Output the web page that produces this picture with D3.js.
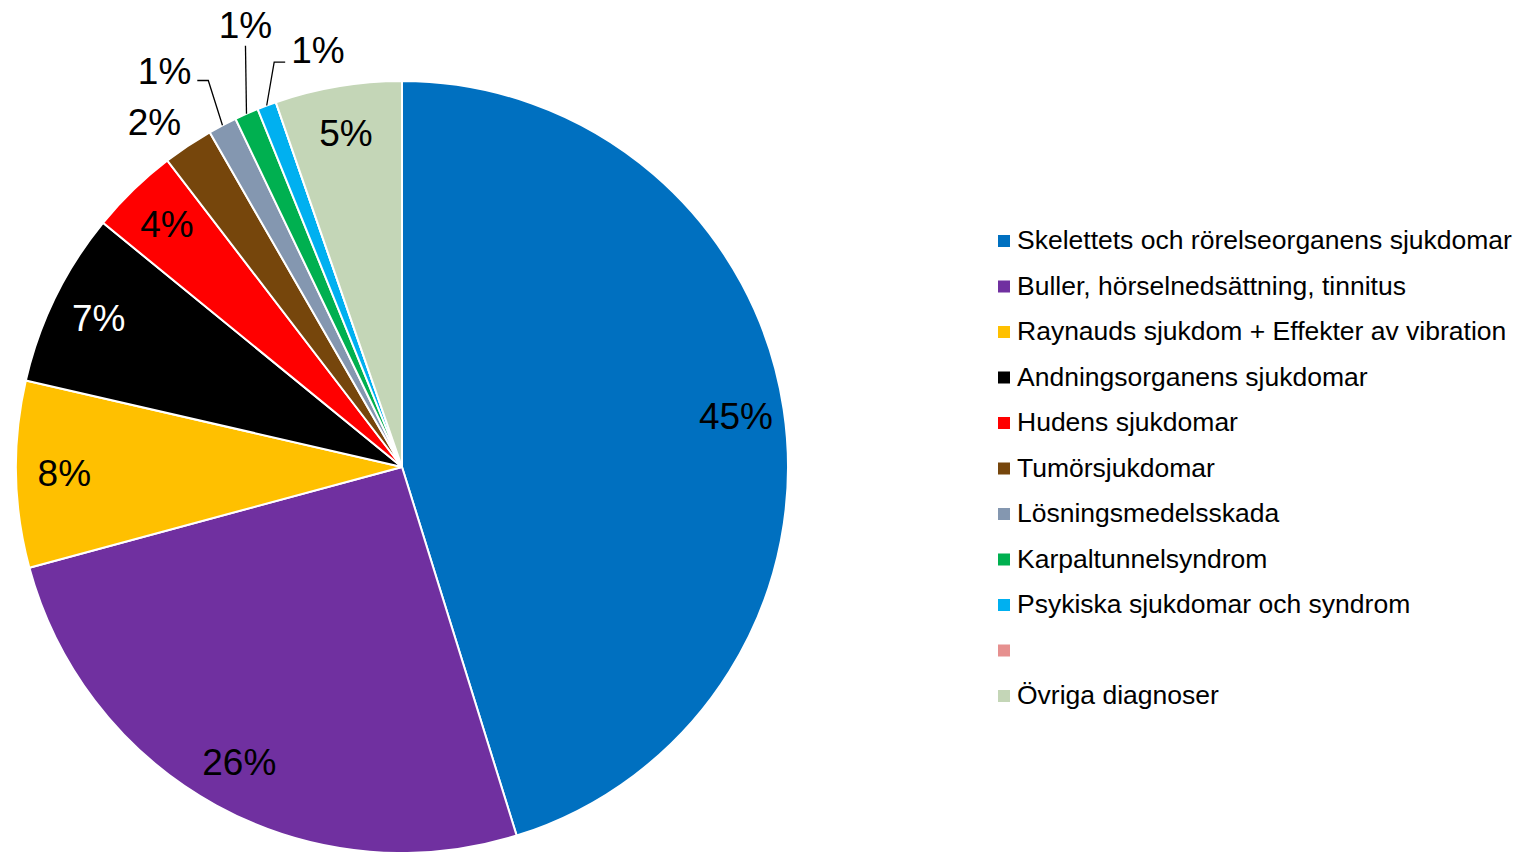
<!DOCTYPE html>
<html>
<head>
<meta charset="utf-8">
<script src="https://cdn.jsdelivr.net/npm/d3@7"></script>
<style>
  body { margin: 0; background: #fff; }
  svg { display: block; font-family: "Liberation Sans", Arial, sans-serif; }
</style>
</head>
<body>
<svg id="chart" width="1517" height="852"></svg>
<script>
'use strict'
// kategorier, andelar i procent och färger
var categories = [
    "Skelettets och rörelseorganens sjukdomar",
    "Buller, hörselnedsättning, tinnitus",
    "Raynauds sjukdom + Effekter av vibration",
    "Andningsorganens sjukdomar",
    "Hudens sjukdomar",
    "Tumörsjukdomar",
    "Lösningsmedelsskada",
    "Karpaltunnelsyndrom",
    "Psykiska sjukdomar och syndrom",
    "",
    "Övriga diagnoser"
];
var values = [45.2, 25.6, 7.8, 7.3, 3.7, 2.1, 1.2, 1.0, 0.8, 0, 5.3];
var colors = ["#0070C0", "#7030A0", "#FFC000", "#000000", "#FF0000", "#76460C",
              "#8497B0", "#00B050", "#00B0F0", "#E6908F", "#C4D6B7"];

var svg = d3.select("#chart");
var cx = 402, cy = 467, r = 386;
var labelSize = 37;

var pie = d3.pie().sort(null).value(function (d) { return d; });
var arcs = pie(values);
var arc = d3.arc().innerRadius(0).outerRadius(r);

var g = svg.append("g").attr("transform", "translate(" + cx + "," + cy + ")");

g.selectAll("path.slice")
    .data(arcs)
    .enter().append("path")
    .attr("class", "slice")
    .attr("d", arc)
    .attr("fill", function (d, i) { return colors[i]; })
    .attr("stroke", "#fff")
    .attr("stroke-width", 2);

//punkt på given radie och vinkel (0 = klockan 12)
function polar(rad, ang) {
    return [rad * Math.sin(ang), -rad * Math.cos(ang)];
}
function midAngle(d) { return (d.startAngle + d.endAngle) / 2; }
function pct(v) { return Math.round(v) + "%"; }

// etiketter inuti de stora tårtbitarna
var inside = arcs.filter(function (d) { return d.data >= 3; });
g.selectAll("text.inside")
    .data(inside)
    .enter().append("text")
    .attr("class", "inside")
    .attr("x", function (d) { return polar(r * 0.875, midAngle(d))[0]; })
    .attr("y", function (d) { return polar(r * 0.875, midAngle(d))[1]; })
    .attr("text-anchor", "middle")
    .attr("dominant-baseline", "central")
    .attr("font-size", labelSize)
    .attr("fill", function (d) { return d.data === values[3] ? "#fff" : "#000"; })
    .text(function (d) { return pct(d.data); });

// 2% utanför utan linje
var outside = arcs.filter(function (d) { return d.data >= 1.5 && d.data < 3; });
g.selectAll("text.outside")
    .data(outside)
    .enter().append("text")
    .attr("x", function (d) { return polar(r * 1.1, midAngle(d) - 0.035)[0]; })
    .attr("y", function (d) { return polar(r * 1.1, midAngle(d) - 0.035)[1]; })
    .attr("text-anchor", "middle")
    .attr("dominant-baseline", "central")
    .attr("font-size", labelSize)
    .text(function (d) { return pct(d.data); });

// små bitar med hänvisningslinjer: armbågsradie, vinkelförskjutning, riktning
var leaderLayout = [
    { elbowR: 1.12, shift: 1.1, dir: -1 },
    { elbowR: 1.165, shift: 3.3, dir: 0 },
    { elbowR: 1.10, shift: 3.0, dir: 1 }
];
var small = arcs.filter(function (d) { return d.data > 0 && d.data < 1.5; });
small.forEach(function (d, k) {
    var lay = leaderLayout[k];
    var a = midAngle(d);
    var p0 = polar(r, a);
    var p1 = polar(r * lay.elbowR, a + lay.shift * Math.PI / 180);
    var pts = [p0, p1];
    var tx, ty, anchor;
    if (lay.dir === 0) {
        p1 = [p0[0] - 1, p1[1]];
        pts = [p0, p1];
        tx = p1[0]; ty = p1[1] - 20; anchor = "middle";
    } else {
        var p2 = [p1[0] + lay.dir * 11, p1[1]];
        pts.push(p2);
        tx = p2[0] + lay.dir * 6; ty = p2[1] - (lay.dir < 0 ? 9 : 12);
        anchor = lay.dir < 0 ? "end" : "start";
    }
    g.append("path")
        .attr("d", d3.line()(pts))
        .attr("fill", "none")
        .attr("stroke", "#000")
        .attr("stroke-width", 1.3);
    g.append("text")
        .attr("x", tx)
        .attr("y", ty)
        .attr("text-anchor", anchor)
        .attr("dominant-baseline", "central")
        .attr("font-size", labelSize)
        .text(pct(d.data));
});

// legend
var legend = svg.append("g").attr("transform", "translate(998,240)");
var yLeg = d3.scalePoint().domain(d3.range(categories.length)).range([0, 455]);
var item = legend.selectAll("g.item")
    .data(categories)
    .enter().append("g")
    .attr("class", "item")
    .attr("transform", function (d, i) { return "translate(0," + yLeg(i) + ")"; });
item.append("rect")
    .attr("x", 0).attr("y", -5)
    .attr("width", 12).attr("height", 12)
    .attr("fill", function (d, i) { return colors[i]; });
item.append("text")
    .attr("x", 19).attr("y", 0)
    .attr("dominant-baseline", "central")
    .attr("font-size", 26.5)
    .attr("fill", "#000")
    .text(function (d) { return d; });
</script>
</body>
</html>
